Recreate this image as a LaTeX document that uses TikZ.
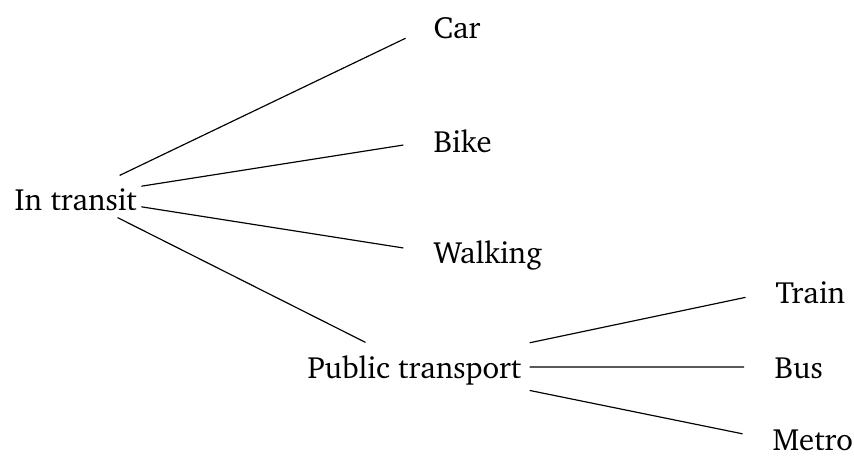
\documentclass[tikz,border=0pt]{standalone}
\usepackage[T1]{fontenc}
\usepackage{charter}
\begin{document}
\begin{tikzpicture}[x=0.34pt,y=-0.34pt,
  every node/.style={font=\fontsize{10.45pt}{12.5pt}\selectfont, inner xsep=1.36pt, inner ysep=1.36pt},
  rootnode/.style={anchor=base west, text height=10.2pt, text depth=1.02pt},
  midnode/.style={anchor=base west, inner xsep=2.7pt, text height=10.54pt, text depth=3.06pt},
  leaf/.style={anchor=base west, text height=8.84pt, text depth=1.36pt},
  edge/.style={draw, line width=0.4pt},
  toleaf/.style={edge, shorten >=8.84pt}]
\useasboundingbox (0,0) rectangle (854,455);
\node[rootnode] (intransit) at (10,210) {In transit};
\node[leaf] (car) at (429,38) {Car};
\node[leaf] (bike) at (429,152) {Bike};
\node[leaf] (walking) at (429,263) {Walking};
\node[midnode] (public) at (299,378) {Public transport};
\node[leaf] (train) at (771,303) {Train};
\node[leaf] (bus) at (770,378) {Bus};
\node[leaf] (metro) at (768,450) {Metro};
\path[toleaf] (intransit) -- (car.west);
\path[toleaf] (intransit) -- (bike.west);
\path[toleaf] (intransit) -- (walking.west);
\path[edge] (intransit) -- (public);
\path[toleaf] (public) -- (train.west);
\path[toleaf] (public) -- (bus.west);
\path[toleaf] (public) -- (metro.west);
\end{tikzpicture}
\end{document}
